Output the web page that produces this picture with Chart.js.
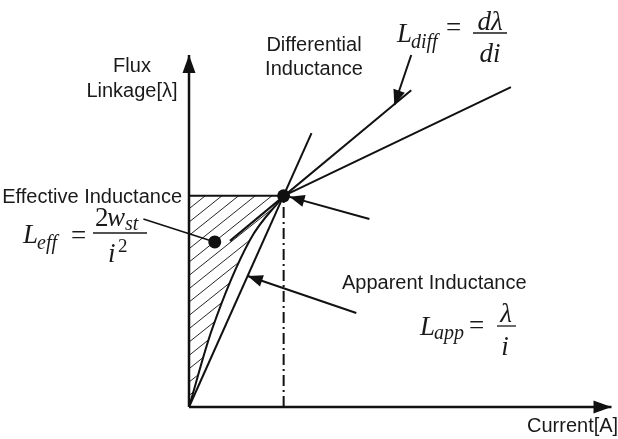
<!DOCTYPE html>
<html>
<head>
<meta charset="utf-8">
<script src="https://cdn.jsdelivr.net/npm/chart.js@4.4.0/dist/chart.umd.min.js"></script>
<style>
  html, body { margin: 0; padding: 0; background: #fff; }
  #wrap { position: relative; width: 618px; height: 439px; }
</style>
</head>
<body>
<div id="wrap"><canvas id="graph01"></canvas></div>
<script>
// lambda-i curve up to the operating point
const curveI = [0, 5.4, 14.4, 22.4]
const curveLambda = [0, 21.9, 47.4, 60]
// saturated part of the curve
const satI = [22.4, 76.2]
const satLambda = [60, 90.9]
// operating point
const opI = 22.4
const opLambda = 60
// chord through the origin (apparent inductance)
const chordI = [0, 29.0]
const chordLambda = [0, 77.8]
// tangent at the operating point (differential inductance)
const tangentI = [9.7, 52.6]
const tangentLambda = [47.2, 90]
// marker inside the co-energy area
const effI = 6.1
const effLambda = 46.9
// pointer arrows, tail -> tip
const diffArrowI = [52.6, 48.6]
const diffArrowLambda = [100, 85.8]
const opArrowI = [42.7, 23.8]
const opArrowLambda = [53.4, 59.7]
const appArrowI = [39.6, 13.9]
const appArrowLambda = [26.7, 37.2]
const effLeaderI = [-10.8, 6.1]
const effLeaderLambda = [53.4, 46.9]

const canvas = document.getElementById('graph01')
const ctx = canvas.getContext('2d')
const ink = '#111'
const sans = '"Liberation Sans", Arial, sans-serif'
const serif = '"Liberation Serif", "Times New Roman", serif'

function hatch() {
  const tile = document.createElement('canvas')
  tile.width = 50
  tile.height = 40
  const c = tile.getContext('2d')
  c.strokeStyle = '#262626'
  c.lineWidth = 1
  for (let k = -3; k <= 6; k++) {
    const y0 = k * 40 / 3
    c.beginPath()
    c.moveTo(0, y0)
    c.lineTo(50, y0 - 40)
    c.stroke()
  }
  return ctx.createPattern(tile, 'repeat')
}

function seg(xs, ys, extra) {
  return Object.assign({
    data: xs.map((x, k) => ({ x: x, y: ys[k] })),
    showLine: true,
    borderColor: ink,
    borderWidth: 2,
    pointRadius: 0,
    fill: false,
    clip: false,
    tension: 0
  }, extra || {})
}

function dot(x, y, r) {
  return {
    data: [{ x: x, y: y }],
    showLine: false,
    pointRadius: r,
    pointBackgroundColor: ink,
    pointBorderWidth: 0,
    clip: false
  }
}

// arrowheads at the last point of flagged datasets
const arrowHeads = {
  id: 'arrowHeads',
  afterDatasetsDraw(chart) {
    const c = chart.ctx
    chart.data.datasets.forEach((ds, i) => {
      if (!ds.arrow) return
      const pts = chart.getDatasetMeta(i).data
      const a = pts[pts.length - 2]
      const b = pts[pts.length - 1]
      const ang = Math.atan2(b.y - a.y, b.x - a.x)
      const len = ds.arrow === 'axis' ? 18 : 15
      const half = ds.arrow === 'axis' ? 6.5 : 6
      c.save()
      c.translate(b.x, b.y)
      c.rotate(ang)
      c.fillStyle = ink
      c.beginPath()
      c.moveTo(0, 0)
      c.lineTo(-len, -half)
      c.lineTo(-len, half)
      c.closePath()
      c.fill()
      c.restore()
    })
  }
}

function put(c, txt, x, y, font, align) {
  c.font = font
  c.textAlign = align || 'left'
  c.fillText(txt, x, y)
}

function bar(c, x1, x2, y) {
  c.beginPath()
  c.moveTo(x1, y)
  c.lineTo(x2, y)
  c.stroke()
}

// captions and formulas
const captions = {
  id: 'captions',
  afterDraw(chart) {
    const c = chart.ctx
    c.save()
    c.fillStyle = '#1a1a1a'
    c.strokeStyle = '#1a1a1a'
    c.lineWidth = 1.3
    c.textBaseline = 'alphabetic'
    const s = '20px ' + sans
    put(c, 'Flux', 132, 72, s, 'center')
    put(c, 'Linkage[λ]', 132, 97, s, 'center')
    put(c, 'Differential', 314, 51, s, 'center')
    put(c, 'Inductance', 314, 75, s, 'center')
    put(c, 'Effective Inductance', 182, 203, s, 'right')
    put(c, 'Apparent Inductance', 342, 289, s)
    put(c, 'Current[A]', 527, 432, s)

    const it = 'italic 27px ' + serif
    const sub = 'italic 20px ' + serif
    const up = '27px ' + serif

    // L_diff = dλ/di
    put(c, 'L', 397, 42, it)
    put(c, 'diff', 411, 48, sub)
    put(c, '=', 446, 36, up)
    bar(c, 473, 507, 33)
    put(c, 'dλ', 490, 30, it, 'center')
    put(c, 'di', 490, 62, it, 'center')

    // L_eff = 2w_st / i^2
    put(c, 'L', 23, 243, it)
    put(c, 'eff', 37, 249, sub)
    put(c, '=', 71, 244, up)
    bar(c, 93, 147, 233)
    put(c, '2', 95, 226, up)
    put(c, 'w', 107, 226, it)
    put(c, 'st', 125, 230, sub)
    put(c, 'i', 108, 262, it)
    put(c, '2', 118, 252, '19px ' + serif)

    // L_app = λ/i
    put(c, 'L', 420, 335, it)
    put(c, 'app', 434, 339, sub)
    put(c, '=', 469, 334, up)
    bar(c, 497, 516, 326)
    put(c, 'λ', 506, 322, it, 'center')
    put(c, 'i', 505, 355, it, 'center')
    c.restore()
  }
}

new Chart(canvas, {
  type: 'scatter',
  data: {
    datasets: [
      seg(curveI, curveLambda, {
        cubicInterpolationMode: 'monotone',
        fill: { value: opLambda },
        backgroundColor: hatch(),
        order: 10
      }),
      seg(satI, satLambda),
      seg(chordI, chordLambda),
      seg(tangentI, tangentLambda),
      seg([0, opI], [opLambda, opLambda]),
      seg([opI, opI], [0, opLambda], { borderDash: [11, 4, 2, 4] }),
      seg([0, 100], [0, 0], { borderWidth: 2.5, arrow: 'axis' }),
      seg([0, 0], [0, 100], { borderWidth: 2.5, arrow: 'axis' }),
      seg(diffArrowI, diffArrowLambda, { arrow: 'small' }),
      seg(opArrowI, opArrowLambda, { arrow: 'small' }),
      seg(appArrowI, appArrowLambda, { arrow: 'small' }),
      seg(effLeaderI, effLeaderLambda, { borderWidth: 1.6 }),
      dot(opI, opLambda, 6.5),
      dot(effI, effLambda, 6.5)
    ]
  },
  options: {
    responsive: true,
    maintainAspectRatio: false,
    animation: false,
    events: [],
    layout: { padding: { left: 189, right: 5, top: 55, bottom: 32 } },
    scales: {
      x: { type: 'linear', min: 0, max: 100, display: false },
      y: { type: 'linear', min: 0, max: 100, display: false }
    },
    plugins: {
      legend: { display: false },
      tooltip: { enabled: false }
    }
  },
  plugins: [arrowHeads, captions]
})
</script>
</body>
</html>
